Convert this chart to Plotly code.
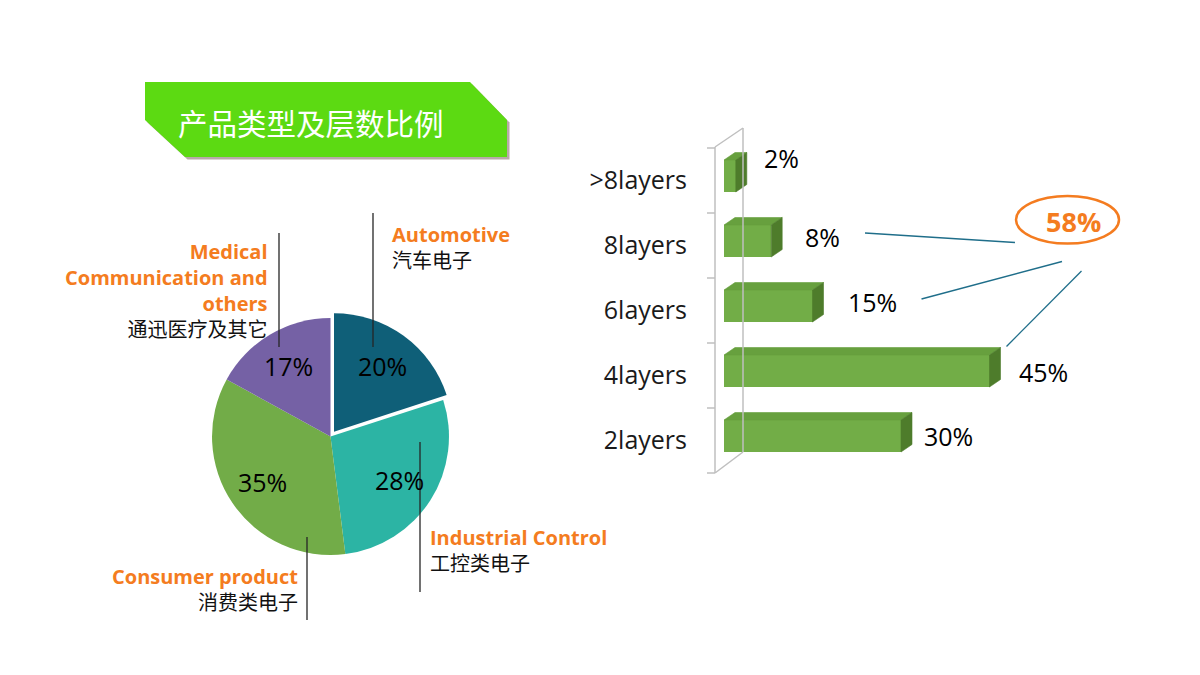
import math
import plotly.graph_objects as go

W, H = 1200, 675


def px(x):
    return x / W


def py(y):
    return 1 - y / H


# ---------------- data ----------------
title_text = "产品类型及层数比例"

pie_labels_en = [["Automotive"], ["Industrial Control"], ["Consumer product"],
                 ["Medical", "Communication and", "others"]]
pie_labels_cn = ["汽车电子", "工控类电子", "消费类电子", "通迅医疗及其它"]
pie_values = [20, 28, 35, 17]
pie_colors = ["#0F5F78", "#2CB4A4", "#72AC48", "#7561A5"]
pie_pull = [0.05, 0, 0, 0]

layer_cats = ["2layers", "4layers", "6layers", "8layers", ">8layers"]
layer_values = [30, 45, 15, 8, 2]
callout_text = "58%"

# ---------------- styles ----------------
ORANGE = "#F47C20"
FONT = "Open Sans, Noto Sans CJK SC, sans-serif"
CJK = "Noto Sans CJK SC, sans-serif"
FRONT = "#72AD47"
TOP = "#67A03E"
SIDE = "#4E7C2B"
PX_PER_PCT = 5.9
X0_PX, X1_PX = 724, 1124
BAND_TOP, BAND_BOT = 148, 473
BAND_PX = (BAND_BOT - BAND_TOP) / len(layer_cats)
BAR_W = 32 / BAND_PX
BAR_OFF = -BAR_W / 2 + 4.5 / BAND_PX
DX = 11 / PX_PER_PCT
DY = 7.5 / BAND_PX

fig = go.Figure()

# ---------------- pie ----------------
cx, cy, half = 330.5, 436.5, 124.4
max_pull = max(pie_pull)
R = half / (1 + max_pull)
fig.add_trace(go.Pie(
    values=pie_values,
    labels=[" ".join(l) for l in pie_labels_en],
    textinfo="none",
    sort=False,
    direction="clockwise",
    rotation=0,
    pull=pie_pull,
    marker=dict(colors=pie_colors, line=dict(width=0)),
    domain=dict(x=[px(cx - half), px(cx + half)], y=[py(cy + half), py(cy - half)]),
    showlegend=False,
    hoverinfo="skip",
))

annotations = []
# percentage labels placed at slice mid-angles derived from the values
total = sum(pie_values)
cum = 0
for v, pl in zip(pie_values, pie_pull):
    theta = math.radians(360 * (cum + v / 2) / total)
    cum += v
    r = 0.69 * R + pl * R
    tx = cx + r * math.sin(theta)
    ty = cy - r * math.cos(theta)
    annotations.append(dict(x=px(tx), y=py(ty), xref="paper", yref="paper",
                            text=f"{v}%", showarrow=False, xanchor="center", yanchor="middle",
                            font=dict(size=25, color="black", family=FONT)))

# ---------------- bars ----------------
ys = list(range(len(layer_cats)))
fig.add_trace(go.Bar(
    x=layer_values, y=ys, orientation="h",
    width=BAR_W, offset=BAR_OFF,
    marker=dict(color=FRONT, line=dict(width=0)),
    showlegend=False, hoverinfo="skip",
))
for i, v in zip(ys, layer_values):
    yb = i + BAR_OFF
    yt = yb + BAR_W
    fig.add_trace(go.Scatter(
        x=[0, v, v + DX, DX, 0], y=[yt, yt, yt + DY, yt + DY, yt],
        fill="toself", fillcolor=TOP, mode="lines", line=dict(width=0.6, color=TOP),
        showlegend=False, hoverinfo="skip",
    ))
    fig.add_trace(go.Scatter(
        x=[v, v, v + DX, v + DX, v], y=[yb, yt, yt + DY, yb + DY, yb],
        fill="toself", fillcolor=SIDE, mode="lines", line=dict(width=0.6, color=SIDE),
        showlegend=False, hoverinfo="skip",
    ))

# value labels
label_xshift = [23, 29, 35, 34, 28]
label_yshift = [4.5, 3.5, 8.5, 8.5, 22.5]
for i, v, xs, ysft in zip(ys, layer_values, label_xshift, label_yshift):
    annotations.append(dict(
        x=v, y=i, xref="x", yref="y", text=f"{v}%", showarrow=False,
        xanchor="left", yanchor="middle", xshift=xs - 2, yshift=ysft,
        font=dict(size=25, color="black", family=FONT),
    ))

# ---------------- shapes ----------------
shapes = []


def poly(points):
    return "M " + " L ".join(f"{px(x)},{py(y)}" for x, y in points) + " Z"


banner = [(145, 82), (470, 82), (507, 120), (507, 157), (185, 157), (145, 120)]
shapes.append(dict(type="path", xref="paper", yref="paper",
                   path=poly([(x + 2.5, y + 2.5) for x, y in banner]),
                   fillcolor="#B9A8A8", line=dict(width=0), layer="below"))
shapes.append(dict(type="path", xref="paper", yref="paper", path=poly(banner),
                   fillcolor="#5CDA12", line=dict(width=0), layer="below"))

annotations.append(dict(x=px(310.5), y=py(122), xref="paper", yref="paper",
                        text=title_text, showarrow=False, xanchor="center", yanchor="middle",
                        font=dict(size=29.5, color="white", family=CJK)))


def seg(x0, y0, x1, y1, color, width):
    return dict(type="line", xref="paper", yref="paper",
                x0=px(x0), y0=py(y0), x1=px(x1), y1=py(y1),
                line=dict(color=color, width=width))


# pie leader lines
for (x, y0, y1) in [(373, 213, 347), (420, 442, 592), (307, 537, 620), (279, 233, 347)]:
    shapes.append(seg(x, y0, x, y1, "#262626", 1.3))

# pie category texts: (anchor x px, xanchor, block centre y)
label_layout = [
    (390, "left", 247.5),
    (428, "left", 550),
    (299.5, "right", 589),
    (270, "right", 290.5),
]
for en_lines, cn, (ax, xa, yc) in zip(pie_labels_en, pie_labels_cn, label_layout):
    en = "<br>".join(en_lines)
    txt = f"<b>{en}</b><br><span style='color:#111111'>{cn}</span>"
    annotations.append(dict(x=px(ax), y=py(yc), xref="paper", yref="paper", text=txt,
                            showarrow=False, xanchor=xa, yanchor="middle", align=xa,
                            font=dict(size=20, color=ORANGE, family=FONT)))

# 3D frame for bar chart
FRAME = "#BFBFBF"
shapes += [
    seg(715, 147, 715, 473, FRAME, 1.5),
    seg(743, 128, 743, 452, FRAME, 1.5),
    seg(715, 147, 743, 128, FRAME, 1.5),
    seg(715, 473, 743, 452, FRAME, 1.5),
]
for k in range(len(layer_cats) + 1):
    yy = BAND_TOP + k * BAND_PX
    shapes.append(seg(707, yy, 715, yy, FRAME, 1.5))

# callout lines and ellipse
TEAL = "#1F6E8A"
shapes += [
    seg(865, 233, 1015, 242.5, TEAL, 1.3),
    seg(921.5, 299, 1062, 261.5, TEAL, 1.3),
    seg(1006.5, 346.5, 1081.5, 271, TEAL, 1.3),
]
shapes.append(dict(type="circle", xref="paper", yref="paper",
                   x0=px(1016), x1=px(1119), y0=py(243.5), y1=py(196),
                   line=dict(color=ORANGE, width=2.5), fillcolor="rgba(0,0,0,0)"))
annotations.append(dict(x=px(1073), y=py(221.5), xref="paper", yref="paper",
                        text=f"<b>{callout_text}</b>", showarrow=False,
                        xanchor="center", yanchor="middle",
                        font=dict(size=27, color=ORANGE, family=FONT)))

fig.update_layout(
    width=W, height=H,
    margin=dict(l=0, r=0, t=0, b=0),
    paper_bgcolor="white", plot_bgcolor="rgba(0,0,0,0)",
    bargap=0,
    xaxis=dict(domain=[px(X0_PX), px(X1_PX)], range=[0, (X1_PX - X0_PX) / PX_PER_PCT],
               visible=False, fixedrange=True),
    yaxis=dict(domain=[py(BAND_BOT), py(BAND_TOP)], range=[-0.5, len(layer_cats) - 0.5],
               tickvals=ys, ticktext=layer_cats, ticks="outside", ticklen=31,
               tickcolor="rgba(0,0,0,0)", showgrid=False, zeroline=False, showline=False,
               tickfont=dict(size=25, color="#1A1A1A", family=FONT), fixedrange=True),
    shapes=shapes,
    annotations=annotations,
)

fig.write_html("out.html", config={"displayModeBar": False},
               post_script="document.body.style.margin='0';")
